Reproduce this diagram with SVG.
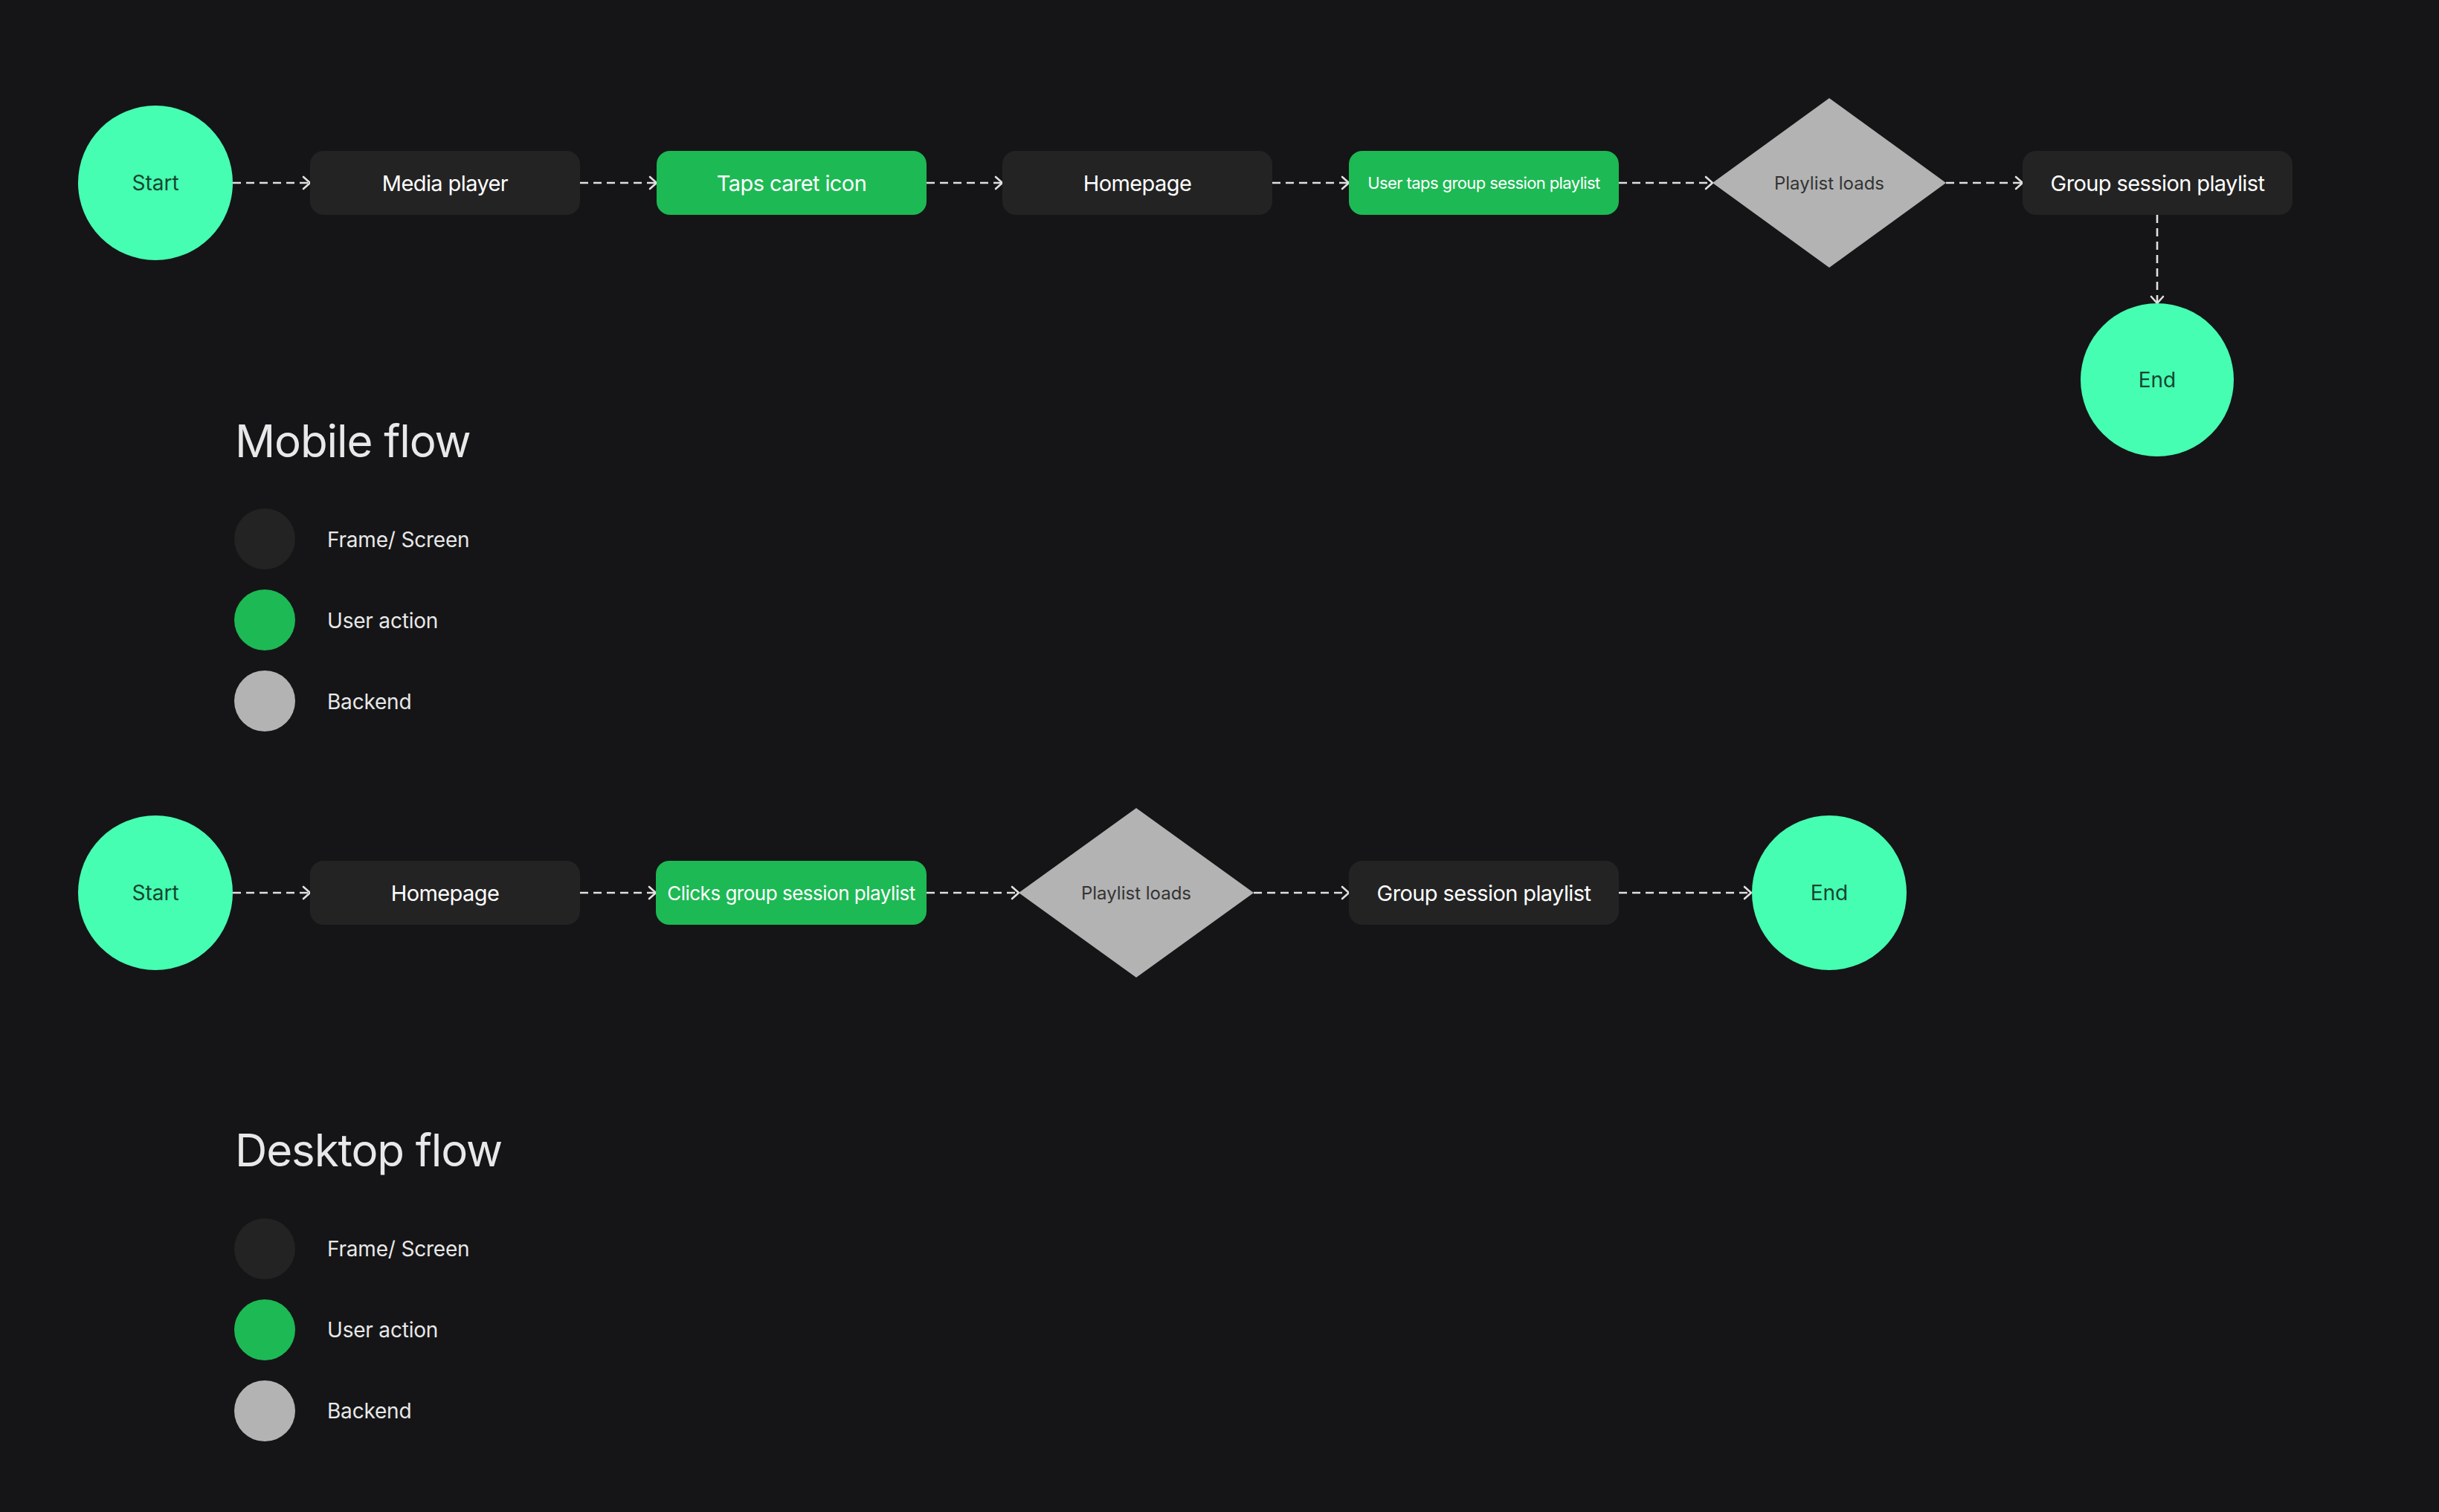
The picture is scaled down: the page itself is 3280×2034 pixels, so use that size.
<svg xmlns="http://www.w3.org/2000/svg" width="3280" height="2034" viewBox="0 0 3280 2034">
  <defs>
    <marker id="chev" markerUnits="userSpaceOnUse" markerWidth="14" markerHeight="20" refX="10" refY="9" orient="auto" overflow="visible">
      <path d="M1,1 L10,9 L1,17" fill="none" stroke="#e0e0e0" stroke-width="2.6" stroke-linecap="round" stroke-linejoin="round"/>
    </marker>
    <style>
      .bg { fill: #151517; }
      .term { fill: #46FEB2; }
      .screen { fill: #232323; }
      .action { fill: #1DB954; }
      .backend { fill: #b3b3b3; }
      text { font-family: Inter, "Noto Sans", "Liberation Sans", sans-serif; }
      .t-term { fill: #14452f; font-size: 28px; text-anchor: middle; }
      .t-node { fill: #ffffff; font-size: 29px; letter-spacing: -0.6px; text-anchor: middle; }
      .t-small { fill: #ffffff; font-size: 22px; letter-spacing: -0.6px; text-anchor: middle; }
      .t-mid { fill: #ffffff; font-size: 26px; letter-spacing: -0.5px; text-anchor: middle; }
      .t-back { fill: #333333; font-size: 24px; text-anchor: middle; }
      .title { fill: #e8e8e8; font-size: 60px; letter-spacing: -1.1px; }
      .legend { fill: #e8e8e8; font-size: 28px; letter-spacing: -0.2px; }
      .conn path { fill: none; stroke: #e0e0e0; stroke-width: 2.6; stroke-dasharray: 11 7; marker-end: url(#chev); }
    </style>
  </defs>

  <rect class="bg" x="0" y="0" width="3280" height="2034"/>

  <!-- Mobile flow -->
  <g id="connectors-mobile" class="conn">
    <path d="M313,246 H417"/>
    <path d="M780,246 H883"/>
    <path d="M1246,246 H1348"/>
    <path d="M1711,246 H1814"/>
    <path d="M2177,246 H2303"/>
    <path d="M2617,246 H2720"/>
    <path d="M2901,289 V408"/>
  </g>

  <g id="m-start">
    <circle class="term" cx="209" cy="246" r="104"/>
    <text class="t-term" x="209" y="256">Start</text>
  </g>
  <g id="m-media-player">
    <rect class="screen" x="417" y="203" width="363" height="86" rx="18"/>
    <text class="t-node" x="598.5" y="256.5">Media player</text>
  </g>
  <g id="m-taps-caret">
    <rect class="action" x="883" y="203" width="363" height="86" rx="18"/>
    <text class="t-node" x="1064.5" y="256.5">Taps caret icon</text>
  </g>
  <g id="m-homepage">
    <rect class="screen" x="1348" y="203" width="363" height="86" rx="18"/>
    <text class="t-node" x="1529.5" y="256.5">Homepage</text>
  </g>
  <g id="m-user-taps">
    <rect class="action" x="1814" y="203" width="363" height="86" rx="18"/>
    <text class="t-small" x="1995.5" y="254">User taps group session playlist</text>
  </g>
  <g id="m-playlist-loads">
    <polygon class="backend" points="2460,132 2617,246 2460,360 2303,246"/>
    <text class="t-back" x="2460" y="254.5">Playlist loads</text>
  </g>
  <g id="m-group-session">
    <rect class="screen" x="2720" y="203" width="363" height="86" rx="18"/>
    <text class="t-node" x="2901.5" y="256.5">Group session playlist</text>
  </g>
  <g id="m-end">
    <circle class="term" cx="2901" cy="511" r="103"/>
    <text class="t-term" x="2901" y="521">End</text>
  </g>

  <g id="mobile-legend">
    <text class="title" x="316" y="615">Mobile flow</text>
    <circle class="screen" cx="356" cy="725" r="41"/>
    <text class="legend" x="440" y="736">Frame/ Screen</text>
    <circle class="action" cx="356" cy="834" r="41"/>
    <text class="legend" x="440" y="845">User action</text>
    <circle class="backend" cx="356" cy="943" r="41"/>
    <text class="legend" x="440" y="954">Backend</text>
  </g>

  <!-- Desktop flow -->
  <g id="connectors-desktop" class="conn">
    <path d="M313,1201 H417"/>
    <path d="M780,1201 H882"/>
    <path d="M1246,1201 H1370"/>
    <path d="M1686,1201 H1814"/>
    <path d="M2177,1201 H2355"/>
  </g>

  <g id="d-start">
    <circle class="term" cx="209" cy="1201" r="104"/>
    <text class="t-term" x="209" y="1211">Start</text>
  </g>
  <g id="d-homepage">
    <rect class="screen" x="417" y="1158" width="363" height="86" rx="18"/>
    <text class="t-node" x="598.5" y="1211.5">Homepage</text>
  </g>
  <g id="d-clicks">
    <rect class="action" x="882" y="1158" width="364" height="86" rx="18"/>
    <text class="t-mid" x="1064" y="1210.5">Clicks group session playlist</text>
  </g>
  <g id="d-playlist-loads">
    <polygon class="backend" points="1528,1087 1686,1201 1528,1315 1370,1201"/>
    <text class="t-back" x="1528" y="1209.5">Playlist loads</text>
  </g>
  <g id="d-group-session">
    <rect class="screen" x="1814" y="1158" width="363" height="86" rx="18"/>
    <text class="t-node" x="1995.5" y="1211.5">Group session playlist</text>
  </g>
  <g id="d-end">
    <circle class="term" cx="2460" cy="1201" r="104"/>
    <text class="t-term" x="2460" y="1211">End</text>
  </g>

  <g id="desktop-legend">
    <text class="title" x="316" y="1569">Desktop flow</text>
    <circle class="screen" cx="356" cy="1680" r="41"/>
    <text class="legend" x="440" y="1690">Frame/ Screen</text>
    <circle class="action" cx="356" cy="1789" r="41"/>
    <text class="legend" x="440" y="1799">User action</text>
    <circle class="backend" cx="356" cy="1898" r="41"/>
    <text class="legend" x="440" y="1908">Backend</text>
  </g>
</svg>
